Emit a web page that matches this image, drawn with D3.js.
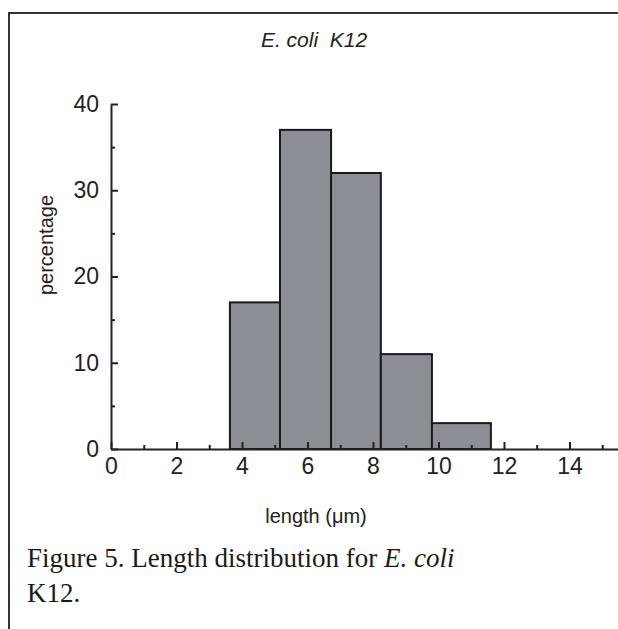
<!DOCTYPE html>
<html>
<head>
<meta charset="utf-8">
<script src="https://cdn.jsdelivr.net/npm/d3@7"></script>
<style>
  html, body { margin: 0; padding: 0; background: #fff; }
  svg { display: block; }
</style>
</head>
<body>
<svg id="chart" width="618" height="629"></svg>
<script>
// ---- data ----
const binStart = [3.63, 5.16, 6.72, 8.24, 9.80];
const binEnd   = [5.16, 6.72, 8.24, 9.80, 11.6];
const percentage = [17, 37, 32, 11, 3];
const xMajorTicks = [0, 2, 4, 6, 8, 10, 12, 14];
const xMinorTicks = [1, 3, 5, 7, 9, 11, 13, 15];
const yMajorTicks = [0, 10, 20, 30, 40];
const yMinorTicks = [5, 15, 25, 35];
const chartTitle = "E. coli  K12";
const xTitle = "length (\u03BCm)";
const yTitle = "percentage";

const svg = d3.select("#chart");
const W = 618, H = 629;
svg.append("rect").attr("width", W).attr("height", H).attr("fill", "#fff");

const ink = "#222";
const x = d3.scaleLinear().domain([0, 15.5]).range([111, 618.6]);
const y = d3.scaleLinear().domain([0, 40]).range([449, 104]);

// frame
svg.append("path")
  .attr("d", `M9,${H} V13 H${W}`)
  .attr("fill", "none").attr("stroke", "#333").attr("stroke-width", 2);

// bars
const bins = binStart.map((s, i) => ({ s, e: binEnd[i], v: percentage[i] }));
svg.append("g").selectAll("rect").data(bins).enter().append("rect")
  .attr("x", d => x(d.s))
  .attr("y", d => y(d.v))
  .attr("width", d => x(d.e) - x(d.s))
  .attr("height", d => y(0) - y(d.v))
  .attr("fill", "#8c8e95")
  .attr("stroke", "#1a1a1a")
  .attr("stroke-width", 2);

const font = "'Liberation Sans', Arial, Helvetica, sans-serif";

// x axis
const xAxis = svg.append("g").attr("transform", `translate(0,${y(0)})`)
  .call(d3.axisBottom(x).tickValues(xMajorTicks).tickFormat(d3.format("d"))
    .tickSizeInner(-7).tickSizeOuter(0).tickPadding(9));
xAxis.select(".domain").attr("stroke", ink).attr("stroke-width", 2);
xAxis.selectAll(".tick line").attr("stroke", ink).attr("stroke-width", 2);
xAxis.selectAll(".tick text").attr("fill", "#222").style("font-family", font).style("font-size", "23px");

const xMinor = svg.append("g").attr("transform", `translate(0,${y(0)})`)
  .call(d3.axisBottom(x).tickValues(xMinorTicks).tickFormat("")
    .tickSizeInner(-4).tickSizeOuter(0));
xMinor.select(".domain").remove();
xMinor.selectAll(".tick line").attr("stroke", ink).attr("stroke-width", 2);

// y axis
const yAxis = svg.append("g").attr("transform", `translate(${x(0)},0)`)
  .call(d3.axisLeft(y).tickValues(yMajorTicks).tickFormat(d3.format("d"))
    .tickSizeInner(-7).tickSizeOuter(0).tickPadding(12));
yAxis.select(".domain").attr("stroke", ink).attr("stroke-width", 2);
yAxis.selectAll(".tick line").attr("stroke", ink).attr("stroke-width", 2);
yAxis.selectAll(".tick text").attr("fill", "#222").style("font-family", font).style("font-size", "23px");

const yMinor = svg.append("g").attr("transform", `translate(${x(0)},0)`)
  .call(d3.axisLeft(y).tickValues(yMinorTicks).tickFormat("")
    .tickSizeInner(-4).tickSizeOuter(0));
yMinor.select(".domain").remove();
yMinor.selectAll(".tick line").attr("stroke", ink).attr("stroke-width", 2);

// title
svg.append("text")
  .attr("x", 314).attr("y", 47)
  .attr("text-anchor", "middle")
  .style("font-family", font).style("font-size", "21px").style("font-style", "italic")
  .attr("fill", "#222")
  .attr("xml:space", "preserve")
  .text(chartTitle);

// axis titles
svg.append("text")
  .attr("x", 316).attr("y", 523)
  .attr("text-anchor", "middle")
  .style("font-family", font).style("font-size", "20px")
  .attr("fill", "#222")
  .text(xTitle);

svg.append("text")
  .attr("transform", "translate(53,245) rotate(-90)")
  .attr("text-anchor", "middle")
  .style("font-family", font).style("font-size", "20px")
  .attr("fill", "#222")
  .text(yTitle);

// caption
const serif = "'Liberation Serif', 'Times New Roman', serif";
const cap1 = svg.append("text")
  .attr("x", 27).attr("y", 567)
  .style("font-family", serif).style("font-size", "27px")
  .attr("fill", "#1a1a1a");
cap1.append("tspan").text("Figure 5. Length distribution for ");
cap1.append("tspan").style("font-style", "italic").text("E. coli");
svg.append("text")
  .attr("x", 27).attr("y", 602)
  .style("font-family", serif).style("font-size", "27px")
  .attr("fill", "#1a1a1a")
  .text("K12.");
</script>
</body>
</html>
